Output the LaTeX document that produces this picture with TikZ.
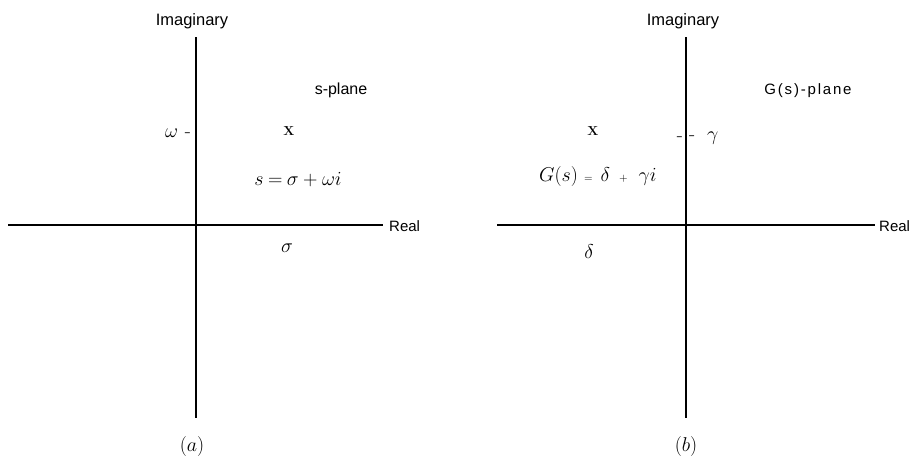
\RequirePackage{fix-cm}
\documentclass[tikz,border=0pt]{standalone}
\usepackage{fontspec}
\setsansfont{Liberation Sans}
\newfontfamily\spacedsans[LetterSpace=12]{Liberation Sans}
\begin{document}
\begin{tikzpicture}[x=1pt,y=-1pt,
  axis/.style={line width=2.9pt},
  lab/.style={font=\sffamily\fontsize{15}{18}\selectfont, inner sep=0pt},
  imag/.style={font=\sffamily\fontsize{16.5}{19}\selectfont, inner sep=0pt},
  mth/.style={font=\fontsize{20}{24}\selectfont, inner sep=0pt},
  xmark/.style={font=\bfseries\fontsize{13}{15}\selectfont, inner sep=0pt},
  caption/.style={font=\fontsize{20}{24}\selectfont, inner sep=0pt}]
\useasboundingbox (0,0) rectangle (918,459);
% ---------- panel (a) ----------
\coordinate (aT) at (196,37);
\coordinate (aB) at (196,418);
\coordinate (aL) at (8,225);
\coordinate (aR) at (383,225);
\draw[axis] (aT) -- (aB);
\draw[axis] (aL) -- (aR);
\node[lab, anchor=west] (aReal) at (389,226) {Real};
\node[imag] (aImag) at (192,21) {Imaginary};
\node[lab, font=\sffamily\fontsize{16}{19}\selectfont] (splane) at (341,90) {s-plane};
\node[mth, anchor=east] (omega) at (191,133) {$\omega$\,\,-};
\node[xmark] (aX) at (289,131) {X};
\node[mth] (seq) at (298,180) {$s\:{=}\:\sigma\:{+}\:\omega i$};
\node[mth] (sigma) at (287,248) {$\sigma$};
\node[caption] (capa) at (192,446) {$(a)$};
% ---------- panel (b) ----------
\coordinate (bT) at (686,37);
\coordinate (bB) at (686,418);
\coordinate (bL) at (497,225);
\coordinate (bR) at (875,225);
\draw[axis] (bT) -- (bB);
\draw[axis] (bL) -- (bR);
\node[lab, anchor=west] (bReal) at (879,226) {Real};
\node[imag] (bImag) at (683,21) {Imaginary};
\node[font=\spacedsans\fontsize{15}{18}\selectfont, inner sep=0pt] (gplane) at (808,91) {G(s)-plane};
\node[xmark] (bX) at (593,131) {X};
\node[mth, anchor=east] (tickL) at (683,139) {-};
\node[mth, anchor=west] (gamma) at (689,138) {-\hspace{12pt}$\gamma$};
\node[mth, anchor=west] (geq) at (539,176) {$G(s)$\hspace{6pt}{\fontsize{11}{12}\selectfont$=$}\hspace{8pt}$\delta$\hspace{9pt}{\fontsize{11}{12}\selectfont$+$}\hspace{11pt}$\gamma i$};
\node[mth] (delta) at (589,252) {$\delta$};
\node[caption] (capb) at (686,446) {$(b)$};
\end{tikzpicture}
\end{document}
